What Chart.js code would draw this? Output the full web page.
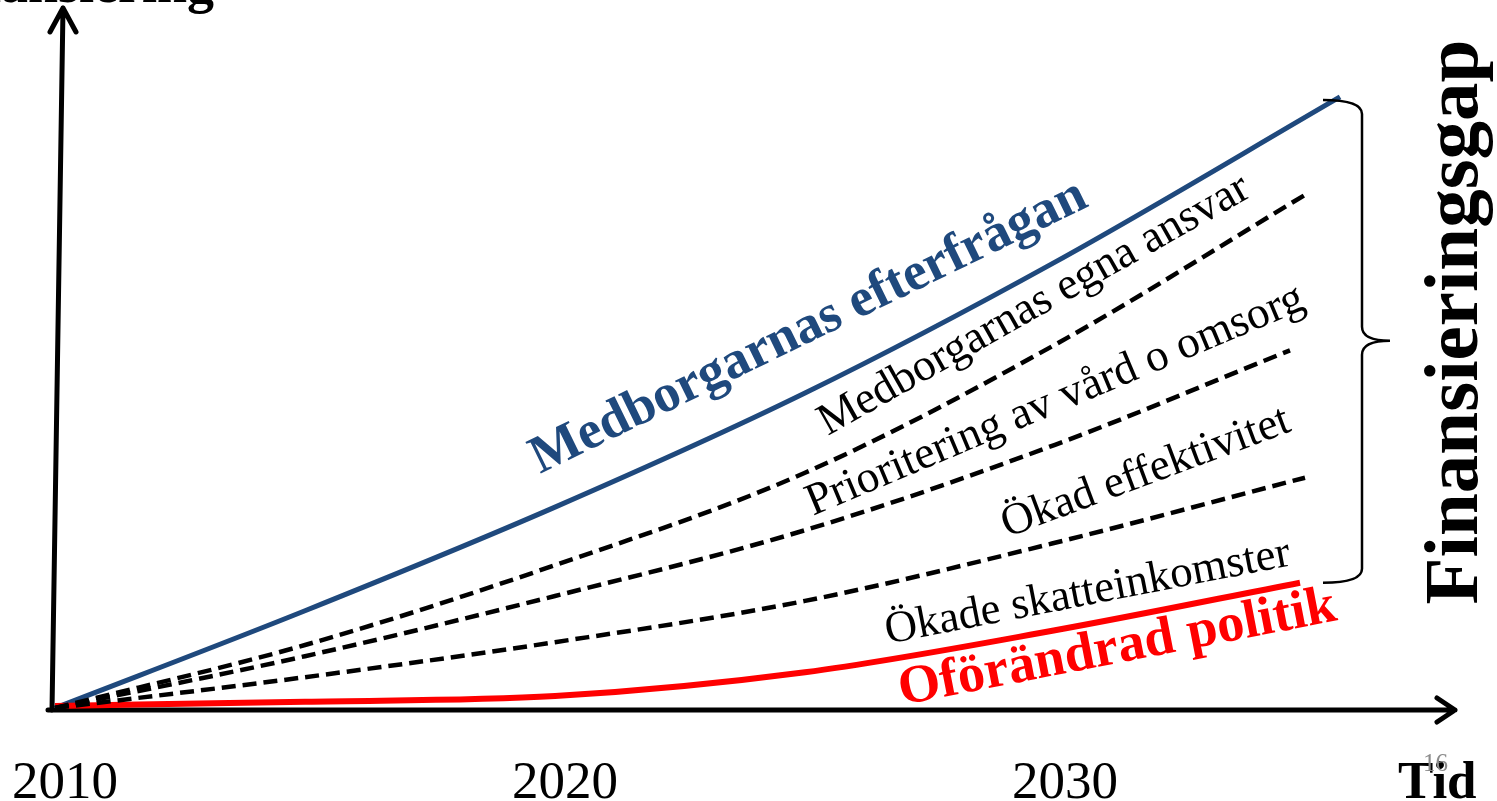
<!DOCTYPE html>
<html>
<head>
<meta charset="utf-8">
<script src="https://cdn.jsdelivr.net/npm/chart.js@4"></script>
<style>
  html, body { margin: 0; padding: 0; background: #fff; }
  #wrap { width: 1497px; height: 801px; }
</style>
</head>
<body>
<div id="wrap"><canvas id="myChart"></canvas></div>
<script>
// series (years + values, values in arbitrary units 0..100)
const yearsEfterfragan = [2010, 2015, 2020, 2025, 2030, 2035.7];
const efterfragan = [0, 13.9, 28.7, 45.0, 63.7, 87.3];

const yearsEgnaAnsvar = [2010, 2015, 2020, 2025, 2030, 2035];
const egnaAnsvar = [0, 9.0, 20.4, 33.6, 51.9, 73.3];

const yearsPrioritering = [2010, 2015, 2020, 2025, 2030, 2034.7];
const prioritering = [0, 7.4, 16.0, 25.4, 37.6, 51.1];

const yearsEffektivitet = [2010, 2015, 2020, 2025, 2030, 2035];
const effektivitet = [0, 4.4, 9.4, 15.3, 23.6, 32.9];

const yearsPolitik = [2010, 2015, 2020, 2025, 2030, 2034.9];
const politik = [0.3, 0.9, 1.7, 5.1, 11.1, 17.9];

const tickYears = [2010, 2020, 2030];

const SERIF = '"Liberation Serif", "Times New Roman", serif';
const BLUE = "#1F497D";

function pts(xs, ys) {
  return xs.map((x, i) => ({ x: x, y: ys[i] }));
}

// line labels: center of baseline in data coords
const lineLabels = [
  { text: "Medborgarnas efterfrågan", x: 2025.2, y: 52.6, angle: -26, width: 612, bold: true, color: BLUE },
  { text: "Medborgarnas egna ansvar", x: 2029.7, y: 56.0, angle: -29.5, width: 488, bold: false, color: "#000" },
  { text: "Prioritering av vård o omsorg", x: 2030.1, y: 42.3, angle: -22.8, width: 536, bold: false, color: "#000" },
  { text: "Ökad effektivitet", x: 2031.9, y: 32.0, angle: -20.5, width: 305, bold: false, color: "#000" },
  { text: "Ökade skatteinkomster", x: 2030.7, y: 14.8, angle: -11.0, width: 412, bold: false, color: "#000" },
  { text: "Oförändrad politik", x: 2031.3, y: 6.5, angle: -11.0, width: 445, bold: true, color: "#FF0000" },
];

function fitText(ctx, text, width, bold, x, y, angle, color, align) {
  ctx.save();
  ctx.font = (bold ? "bold " : "") + "100px " + SERIF;
  const w = ctx.measureText(text).width;
  const size = 100 * width / w;
  ctx.font = (bold ? "bold " : "") + size + "px " + SERIF;
  ctx.translate(x, y);
  ctx.rotate(angle * Math.PI / 180);
  ctx.fillStyle = color;
  ctx.textAlign = align || "center";
  ctx.textBaseline = "alphabetic";
  ctx.fillText(text, 0, 0);
  ctx.restore();
}

const axesPlugin = {
  id: "axesPlugin",
  beforeDatasetsDraw(chart) {
    const ctx = chart.ctx;
    const xs = chart.scales.x, ys = chart.scales.y;
    const y0 = ys.getPixelForValue(0) + 2;
    const x0 = xs.getPixelForValue(2010);
    const xEnd = xs.getPixelForValue(2038);
    const yTop = ys.getPixelForValue(100);
    ctx.save();
    ctx.strokeStyle = "#000";
    ctx.lineWidth = 5;
    ctx.lineCap = "round";
    ctx.lineJoin = "round";
    // x axis
    ctx.beginPath();
    ctx.moveTo(x0 - 7, y0);
    ctx.lineTo(xEnd, y0);
    ctx.moveTo(xEnd - 18, y0 - 12);
    ctx.lineTo(xEnd, y0);
    ctx.lineTo(xEnd - 18, y0 + 12);
    ctx.stroke();
    // y axis (slightly tilted, as in the drawing)
    const tx = x0 + 8;
    ctx.beginPath();
    ctx.moveTo(x0 - 3, y0);
    ctx.lineTo(tx, yTop);
    ctx.moveTo(tx - 13, yTop + 24);
    ctx.lineTo(tx, yTop);
    ctx.lineTo(tx + 13, yTop + 24);
    ctx.stroke();
    ctx.restore();
  },
  afterDraw(chart) {
    const ctx = chart.ctx;
    const xs = chart.scales.x, ys = chart.scales.y;

    lineLabels.forEach((l) => {
      fitText(ctx, l.text, l.width, l.bold, xs.getPixelForValue(l.x), ys.getPixelForValue(l.y), l.angle, l.color);
    });

    // year ticks
    ctx.save();
    ctx.font = "53px " + SERIF;
    ctx.fillStyle = "#000";
    ctx.textAlign = "center";
    ctx.textBaseline = "alphabetic";
    tickYears.forEach((yr) => {
      ctx.fillText(String(yr), xs.getPixelForValue(yr) + 10, 798);
    });
    ctx.font = "bold 53px " + SERIF;
    ctx.textAlign = "left";
    ctx.fillText("Tid", 1398, 798);
    ctx.font = "25px " + SERIF;
    ctx.fillStyle = "#8C8C8C";
    ctx.fillText("16", 1423, 771);
    // y axis title (cut off at top)
    ctx.font = "bold 54px " + SERIF;
    ctx.fillStyle = "#000";
    ctx.textAlign = "right";
    ctx.fillText("Finansiering", 214, 2);
    ctx.restore();

    // brace between top and bottom line
    const bTop = ys.getPixelForValue(efterfragan[efterfragan.length - 1]) + 3;
    const bBot = ys.getPixelForValue(politik[politik.length - 1]);
    const bx = xs.getPixelForValue(2036.14);
    const bMid = (bTop + bBot) / 2 - 0.5;
    ctx.save();
    ctx.strokeStyle = "#000";
    ctx.lineWidth = 2.5;
    ctx.beginPath();
    ctx.moveTo(bx - 39, bTop);
    ctx.quadraticCurveTo(bx, bTop, bx, bTop + 14);
    ctx.lineTo(bx, bMid - 14);
    ctx.quadraticCurveTo(bx, bMid, bx + 28, bMid);
    ctx.quadraticCurveTo(bx, bMid, bx, bMid + 14);
    ctx.lineTo(bx, bBot - 14);
    ctx.quadraticCurveTo(bx, bBot, bx - 39, bBot);
    ctx.stroke();
    ctx.restore();

    fitText(ctx, "Finansieringsgap", 565, true, 1477, 322, -90, "#000");
  },
};

const dashed = {
  borderColor: "#000",
  borderWidth: 4.5,
  borderDash: [14, 7],
  pointRadius: 0,
  cubicInterpolationMode: "monotone",
  clip: false,
};

new Chart(document.getElementById("myChart"), {
  type: "line",
  data: {
    datasets: [
      { ...dashed, label: "Medborgarnas egna ansvar", data: pts(yearsEgnaAnsvar, egnaAnsvar) },
      { ...dashed, label: "Prioritering av vård o omsorg", data: pts(yearsPrioritering, prioritering) },
      { ...dashed, label: "Ökad effektivitet", data: pts(yearsEffektivitet, effektivitet) },
      {
        label: "Oförändrad politik",
        data: pts(yearsPolitik, politik),
        borderColor: "#FF0000",
        borderWidth: 6,
        pointRadius: 0,
        cubicInterpolationMode: "monotone",
        clip: false,
      },
      {
        label: "Medborgarnas efterfrågan",
        data: pts(yearsEfterfragan, efterfragan),
        borderColor: BLUE,
        borderWidth: 5,
        pointRadius: 0,
        cubicInterpolationMode: "monotone",
        clip: false,
      },
    ],
  },
  options: {
    responsive: true,
    maintainAspectRatio: false,
    animation: false,
    layout: { padding: { left: 55, right: 42, top: 8, bottom: 93 } },
    plugins: { legend: { display: false }, tooltip: { enabled: false } },
    scales: {
      x: { type: "linear", min: 2010, max: 2038, display: false },
      y: { min: 0, max: 100, display: false },
    },
  },
  plugins: [axesPlugin],
});
</script>
</body>
</html>
